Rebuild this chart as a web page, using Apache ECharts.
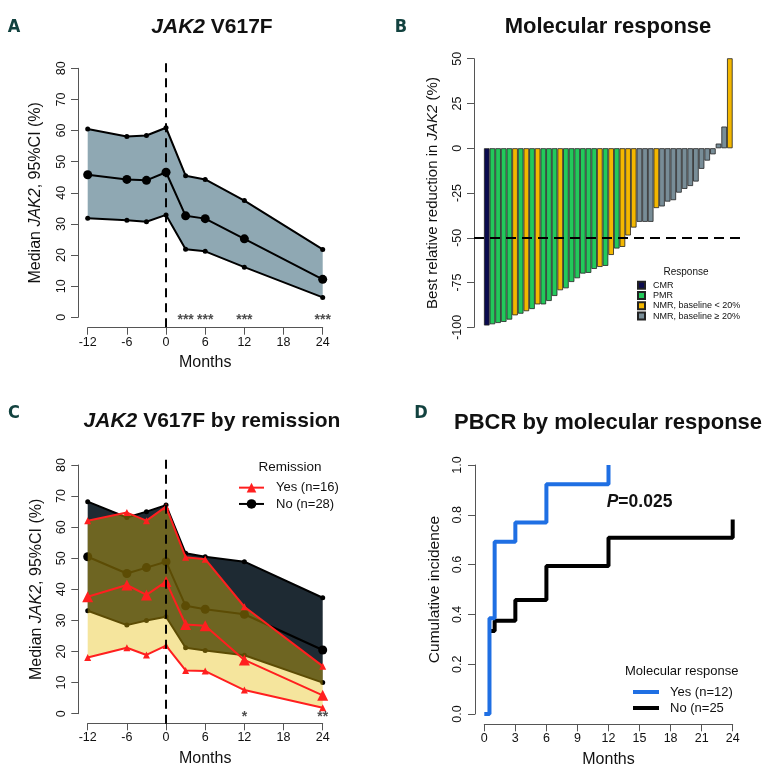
<!DOCTYPE html>
<html>
<head>
<meta charset="utf-8">
<script src="https://cdn.jsdelivr.net/npm/echarts@6/dist/echarts.min.js"></script>
<style>
  html, body { margin: 0; padding: 0; background: #fff; }
  #chart { width: 776px; height: 779px; }
</style>
</head>
<body>
<div id="chart"></div>
<script>
// ---- data ----
const months = [-12, -6, -3, 0, 3, 6, 12, 24];

// A: all patients
const allUpper = [60.5, 58.1, 58.4, 60.9, 45.5, 44.3, 37.5, 21.8];
const allMedian = [45.8, 44.3, 44.0, 46.6, 32.6, 31.7, 25.2, 12.2];
const allLower = [31.8, 31.2, 30.7, 32.9, 21.9, 21.2, 16.1, 6.4];
const allStarMonths = [3, 6, 12, 24];
const allStars = ['***', '***', '***', '***'];

// B: best relative reduction, one bar per patient
const reduction = [-99, -98.3, -97.6, -97, -95.7, -93.3, -92.4, -91, -89.8, -87.2, -87.2,
  -85.3, -82.5, -79.3, -78.2, -74.7, -72.6, -70, -69.6, -67.4, -66.3, -65.7, -59.6, -56,
  -55.1, -48.7, -44.3, -41.1, -41.1, -41.1, -33.4, -32.5, -29.8, -29, -24.8, -22.7, -21.1,
  -18.6, -11.5, -6.9, -3.4, 2.6, 12.1, 52.5];
const responseGroup = [0, 1, 1, 1, 1, 2, 1, 2, 1, 2, 1, 1, 1, 2, 1, 1, 1, 1, 1, 1, 2, 1, 2, 1,
  2, 2, 2, 3, 3, 3, 2, 3, 3, 3, 3, 3, 3, 3, 3, 3, 3, 3, 3, 2];
const responseNames = ['CMR', 'PMR', 'NMR, baseline < 20%', 'NMR, baseline \u2265 20%'];
const responseColors = ['#0b0b4e', '#22c95b', '#f3b700', '#788d97'];
const thresholdLine = -50;

// C: by remission
const noUpper = [68.2, 63.1, 65.0, 67.1, 51.6, 50.5, 48.9, 37.3];
const noMedian = [50.5, 45.1, 47.0, 48.9, 34.7, 33.6, 32.0, 20.5];
const noLower = [33.1, 28.5, 30.0, 31.2, 21.2, 20.3, 18.8, 10.0];
const yesUpper = [62.1, 64.7, 62.1, 66.6, 50.3, 49.7, 34.4, 15.3];
const yesMedian = [37.6, 41.4, 38.2, 42.5, 28.7, 28.3, 17.3, 5.9];
const yesLower = [18.1, 21.2, 18.9, 21.9, 13.9, 13.7, 7.6, 1.9];
const remStarMonths = [12, 24];
const remStars = ['*', '**'];

// D: cumulative incidence
const yesTime = [0, 0.5, 1, 3, 6, 12];
const yesInc = [0, 0.385, 0.692, 0.769, 0.923, 1.0];
const noTime = [0.5, 1, 3, 6, 12, 24];
const noInc = [0.333, 0.375, 0.458, 0.594, 0.708, 0.781];

const FONT = '"Liberation Sans", Arial, sans-serif';
const AXIS_COLOR = '#555';

function axis(grid, o) {
    return {
        type: 'value', gridIndex: grid,
        min: o.min, max: o.max, interval: o.interval, offset: o.offset || 0,
        splitLine: { show: false },
        axisLine: { show: true, onZero: false, lineStyle: { color: AXIS_COLOR, width: 1 } },
        axisTick: { show: true, length: 7, lineStyle: { color: AXIS_COLOR, width: 1 } },
        axisLabel: {
            color: '#111', fontSize: 12.5, fontFamily: FONT, margin: o.margin,
            rotate: o.rotate || 0, formatter: o.formatter, showMinLabel: true, showMaxLabel: true
        },
        name: o.name, nameLocation: 'middle', nameGap: o.nameGap, nameRotate: o.nameRotate || 0,
        nameMoveOverlap: false,
        nameTextStyle: {
            fontSize: o.nameSize || 16, fontFamily: FONT, color: '#111',
            rich: { i: { fontStyle: 'italic', fontSize: o.nameSize || 16, fontFamily: FONT, color: '#111' } }
        }
    };
}

function band(grid, xs, upper, lower, fill, z) {
    return {
        type: 'custom', xAxisIndex: grid, yAxisIndex: grid, z, silent: true, clip: false,
        data: xs.map((x, i) => [x, upper[i], lower[i]]),
        encode: { x: 0, y: [1, 2] },
        renderItem(params, api) {
            if (params.dataIndex !== 0) return null;
            const top = xs.map((x, i) => api.coord([x, upper[i]]));
            const bottom = xs.map((x, i) => api.coord([x, lower[i]])).reverse();
            return { type: 'polygon', shape: { points: top.concat(bottom) }, style: { fill } };
        }
    };
}

function line(grid, name, xs, ys, color, symbol, size, z) {
    return {
        type: 'line', name, xAxisIndex: grid, yAxisIndex: grid, z, silent: true, clip: false,
        data: xs.map((x, i) => [x, ys[i]]),
        symbol, symbolSize: size, showSymbol: true,
        itemStyle: { color, borderWidth: 0 }, lineStyle: { color, width: 2 }
    };
}

function stars(grid, xs, labels, yMin, z) {
    return {
        type: 'scatter', xAxisIndex: grid, yAxisIndex: grid, z, silent: true, clip: false,
        data: xs.map(x => [x, yMin]),
        symbolSize: 1, itemStyle: { color: 'rgba(0,0,0,0)' },
        label: {
            show: true, position: 'inside', offset: [0, 3], color: '#222', fontSize: 14,
            fontWeight: 'bold', fontFamily: FONT, formatter: p => labels[p.dataIndex]
        }
    };
}

// dashed vertical line at month 0 spanning the padded plot region (4% each side, as R does)
function zeroLine(grid, yMin, yMax, z) {
    const pad = (yMax - yMin) * 0.04;
    return {
        type: 'line', xAxisIndex: grid, yAxisIndex: grid, z, silent: true, clip: false,
        data: [[0, yMin - pad], [0, yMax + pad]], symbol: 'none',
        lineStyle: { color: '#000', width: 2, type: [9, 6] }
    };
}

const grids = [
    { left: 87.7, top: 68.3, width: 235, height: 249 },
    { left: 474, top: 58.7, width: 268.6, height: 268.6 },
    { left: 87.7, top: 465, width: 235, height: 248.7 },
    { left: 484.3, top: 465, width: 248.4, height: 249 }
].map(g => Object.assign(g, { containLabel: false, outerBoundsMode: 'none' }));

const xAxes = [
    axis(0, { min: -12, max: 24, interval: 6, offset: 10.4, margin: 8, name: 'Months', nameGap: 27 }),
    { type: 'value', gridIndex: 1, min: -1.76, max: 45.76, show: false },
    axis(2, { min: -12, max: 24, interval: 6, offset: 9.6, margin: 8, name: 'Months', nameGap: 27 }),
    axis(3, { min: 0, max: 24, interval: 3, offset: 10.3, margin: 8, name: 'Months', nameGap: 27 })
];

const yAxes = [
    axis(0, { min: 0, max: 80, interval: 10, offset: 9.7, margin: 10, rotate: 90,
        name: 'Median {i|JAK2}, 95%CI (%)', nameGap: 34, nameRotate: 90 }),
    axis(1, { min: -100, max: 50, interval: 25, offset: 0, margin: 9.5, rotate: 90,
        name: 'Best relative reduction in {i|JAK2} (%)', nameGap: 34, nameRotate: 90, nameSize: 15 }),
    axis(2, { min: 0, max: 80, interval: 10, offset: 9.4, margin: 10, rotate: 90,
        name: 'Median {i|JAK2}, 95%CI (%)', nameGap: 34, nameRotate: 90 }),
    axis(3, { min: 0, max: 1, interval: 0.2, offset: 9.3, margin: 11, rotate: 90,
        formatter: v => v.toFixed(1), name: 'Cumulative incidence', nameGap: 32, nameRotate: 90, nameSize: 15.5 })
];

const series = [];

// panel A
series.push(band(0, months, allUpper, allLower, '#8fa8b3', 1));
series.push(line(0, 'allUpper', months, allUpper, '#000', 'circle', 5, 2));
series.push(line(0, 'allMedian', months, allMedian, '#000', 'circle', 9, 2));
series.push(line(0, 'allLower', months, allLower, '#000', 'circle', 5, 2));
series.push(stars(0, allStarMonths, allStars, 0, 6));
series.push(zeroLine(0, 0, 80, 7));

// panel B
responseNames.forEach((name, g) => {
    const s = {
        type: 'bar', name, xAxisIndex: 1, yAxisIndex: 1, z: g === 3 ? 3 : 2, silent: true,
        barWidth: 5.6, barGap: '-100%',
        data: reduction.map((v, i) => [i + 0.5, v]).filter((d, i) => responseGroup[i] === g),
        itemStyle: { color: responseColors[g], borderColor: '#222', borderWidth: 0.8 }
    };
    if (g === 3) {
        s.markLine = {
            silent: true, symbol: 'none', label: { show: false },
            lineStyle: { color: '#000', width: 2, type: [10, 6] },
            data: [{ yAxis: thresholdLine }]
        };
    }
    series.push(s);
});

// panel C
series.push(band(2, months, noUpper, noLower, '#1e2a33', 1));
series.push(line(2, 'noUpper', months, noUpper, '#000', 'circle', 5, 2));
series.push(line(2, 'No (n=28)', months, noMedian, '#000', 'circle', 9, 2));
series.push(line(2, 'noLower', months, noLower, '#000', 'circle', 5, 2));
series.push(band(2, months, yesUpper, yesLower, 'rgba(230,190,10,0.4)', 3));
series.push(line(2, 'yesUpper', months, yesUpper, '#ff1f1f', 'triangle', 7, 4));
series.push(line(2, 'Yes (n=16)', months, yesMedian, '#ff1f1f', 'triangle', 11, 4));
series.push(line(2, 'yesLower', months, yesLower, '#ff1f1f', 'triangle', 7, 4));
series.push(stars(2, remStarMonths, remStars, 0, 6));
series.push(zeroLine(2, 0, 80, 7));

// panel D
[['No (n=25', noTime, noInc, '#000'], ['Yes (n=12)', yesTime, yesInc, '#1f6fe3']].forEach(([name, t, v, c]) => {
    series.push({
        type: 'line', name, xAxisIndex: 3, yAxisIndex: 3, step: 'end', silent: true, clip: false,
        data: t.map((x, i) => [x, v[i]]), symbol: 'none', showSymbol: false,
        itemStyle: { color: c }, lineStyle: { color: c, width: 4 }
    });
});

const legendText = (size, lh, padLeft) => ({
    color: '#111', fontSize: size, fontFamily: FONT, lineHeight: lh, padding: [0, 0, 0, padLeft]
});

const legends = [
    {
        data: responseNames, orient: 'vertical', left: 637, top: 280, padding: 0,
        itemGap: 0, itemWidth: 7, itemHeight: 7, icon: 'rect', selectedMode: false,
        textStyle: legendText(9, 10.3, 3)
    },
    {
        data: ['Yes (n=16)', 'No (n=28)'], orient: 'vertical', left: 238, top: 479.5, padding: 0,
        itemGap: 0, itemWidth: 25, itemHeight: 12, selectedMode: false,
        textStyle: legendText(13, 16.3, 7)
    },
    {
        data: ['Yes (n=12)', 'No (n=25'], orient: 'vertical', left: 633, top: 684, padding: 0,
        itemGap: 0, itemWidth: 26, itemHeight: 4, icon: 'rect', selectedMode: false,
        textStyle: legendText(13, 16, 6)
    }
];

function text(x, y, str, size, opts) {
    opts = opts || {};
    const style = {
        text: str, x, y, fill: opts.color || '#111', fontSize: size, fontFamily: opts.family || FONT,
        fontWeight: opts.weight || 'normal', fontStyle: opts.style || 'normal',
        align: opts.align || 'center', textAlign: opts.align || 'center',
        verticalAlign: 'middle', textVerticalAlign: 'middle'
    };
    if (opts.rich) style.rich = opts.rich;
    return { type: 'text', silent: true, z: 100, style };
}

const italicBold = size => ({ i: { fontStyle: 'italic', fontWeight: 'bold', fontSize: size, fontFamily: FONT, fill: '#111' } });
const letter = (x, y, s) => text(x, y, s, 18, { weight: 'bold', family: '"DejaVu Sans Condensed", "Liberation Sans Narrow", sans-serif', color: '#12423f' });

const graphics = [
    letter(14, 27, 'A'), letter(401, 27, 'B'), letter(14, 413, 'C'), letter(421, 413, 'D'),
    text(212, 27, '{i|JAK2} V617F', 21, { weight: 'bold', rich: italicBold(21) }),
    text(608, 27, 'Molecular response', 22, { weight: 'bold' }),
    text(212, 421.7, '{i|JAK2} V617F by remission', 21, { weight: 'bold', rich: italicBold(21) }),
    text(608, 423.3, 'PBCR by molecular response', 22, { weight: 'bold' }),
    text(686, 272, 'Response', 10),
    text(290, 467.3, 'Remission', 13.5),
    text(681.7, 671.7, 'Molecular response', 13),
    text(606.7, 501.7, '{i|P}=0.025', 17.5, { weight: 'bold', align: 'left', rich: italicBold(17.5) })
];

const chart = echarts.init(document.getElementById('chart'));
chart.setOption({
    animation: false,
    backgroundColor: '#fff',
    grid: grids,
    xAxis: xAxes,
    yAxis: yAxes,
    legend: legends,
    series,
    graphic: graphics
});
</script>
</body>
</html>
